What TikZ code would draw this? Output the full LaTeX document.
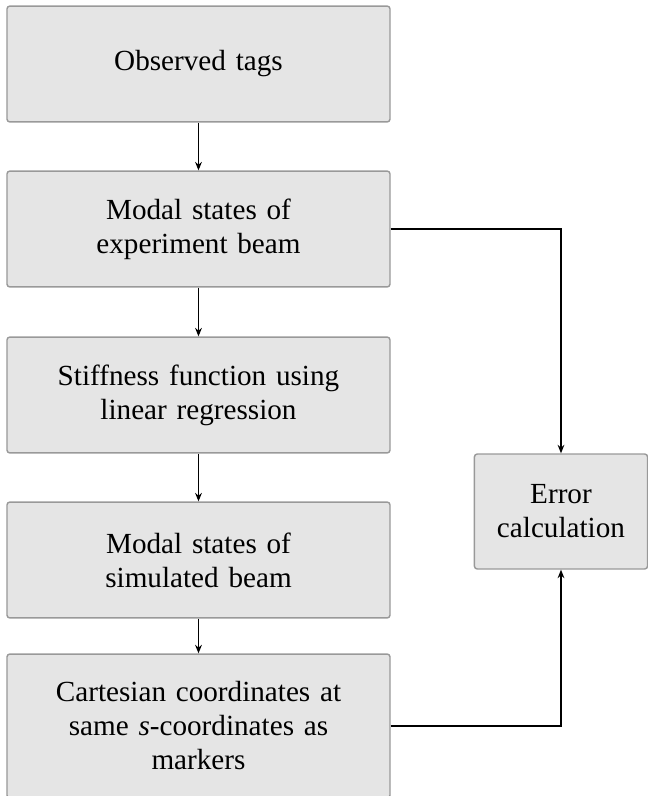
\documentclass[tikz,border=0pt]{standalone}
\usepackage{fontspec}
\setmainfont{Liberation Serif}
\usetikzlibrary{arrows.meta}
\begin{document}
\begin{tikzpicture}[x=0.353pt,y=-0.353pt,
  flowbox/.style={draw=black!40, fill=black!10, line width=0.5pt, rounded corners=1pt,
    align=center, font=\fontsize{10.3}{12}\selectfont, inner sep=0pt},
  leftbox/.style={flowbox, minimum width=135.2pt, minimum height=40.9pt, text width=110pt},
  conn/.style={draw=black, line width=0.45pt, -{Stealth[length=3pt,width=2.4pt]}}]
\useasboundingbox (0,0) rectangle (648,796);
\node[leftbox] (obs) at (198.5,64) {Observed tags};
\node[leftbox] (exp) at (198.5,229) {Modal states of\\experiment beam};
\node[leftbox] (stiff) at (198.5,395) {Stiffness function using\\linear regression};
\node[leftbox] (sim) at (198.5,560) {Modal states of\\simulated beam};
\node[leftbox, minimum height=50.8pt] (cart) at (198.5,726) {Cartesian coordinates at\\same \textit{s}-coordinates as\\markers};
\node[flowbox, minimum width=61.1pt, minimum height=40.6pt, text width=55pt] (err) at (561,511.5) {Error\\calculation};
\draw[conn] (obs) -- (exp);
\draw[conn] (exp) -- (stiff);
\draw[conn] (stiff) -- (sim);
\draw[conn] (sim) -- (cart);
\draw[conn] (exp.east) -| (err.north);
\draw[conn] (cart.east) -| (err.south);
\end{tikzpicture}
\end{document}
